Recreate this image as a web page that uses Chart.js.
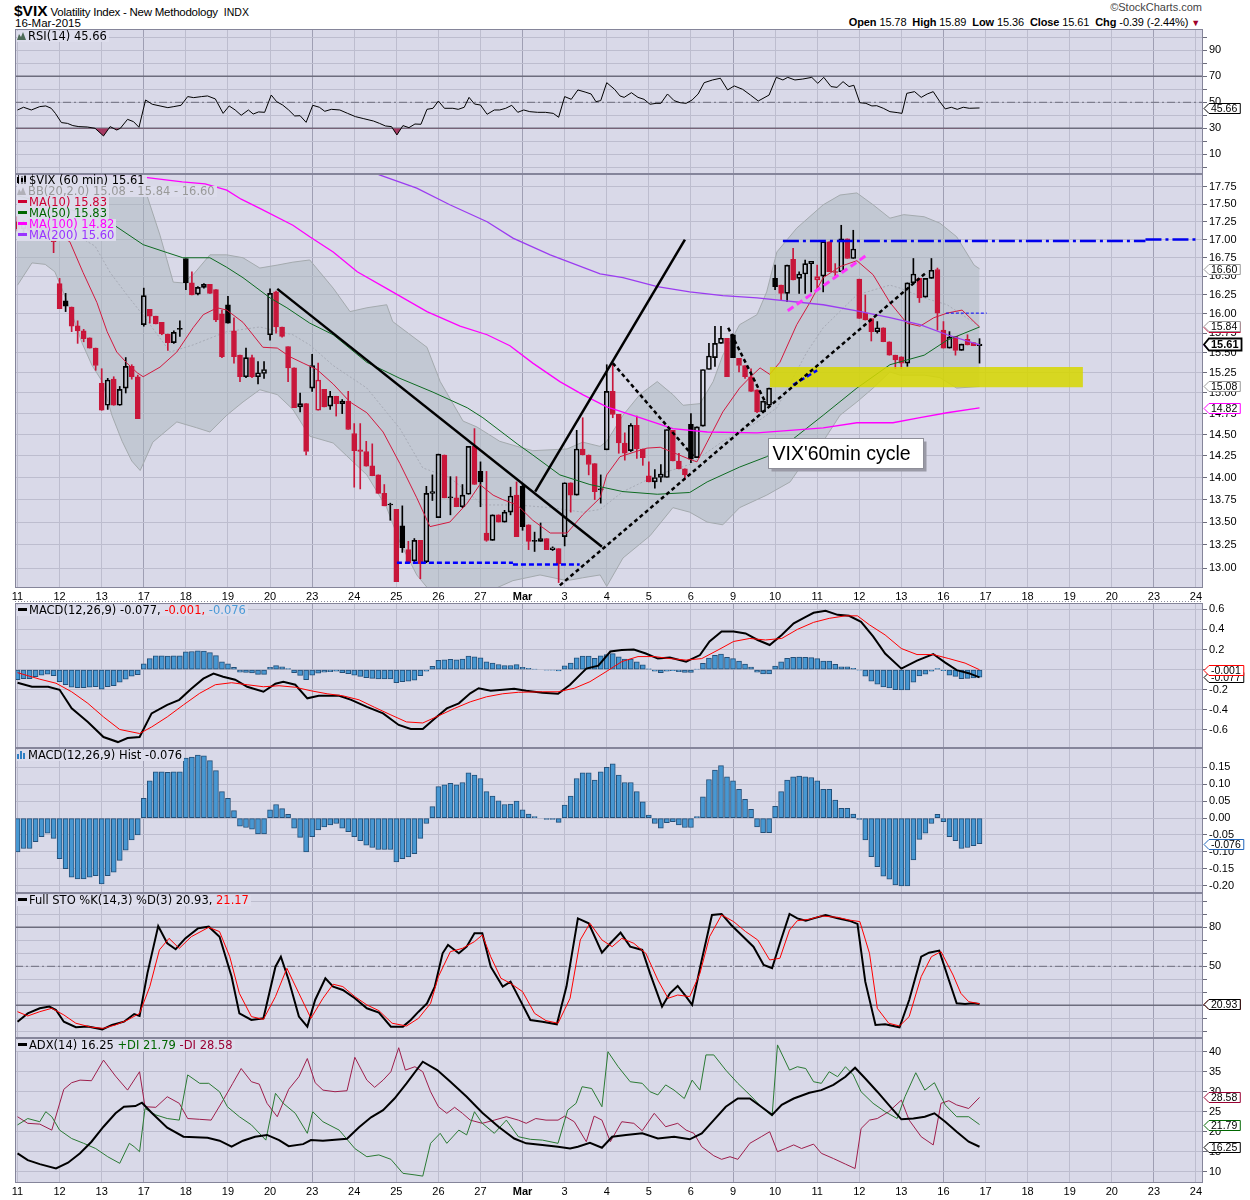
<!DOCTYPE html>
<html>
<head>
<meta charset="utf-8">
<title>$VIX 60 min</title>
<script src="https://cdn.jsdelivr.net/npm/chart.js@4.4.1/dist/chart.umd.min.js"></script>
<style>
html,body{margin:0;padding:0;background:#fff}
body{position:relative;width:1250px;height:1200px;overflow:hidden;font-family:"Liberation Sans",Arial,sans-serif;color:#000}
canvas{position:absolute;left:0}
.t{position:absolute;white-space:nowrap}
.lg{position:absolute;left:17px;font:11.5px "DejaVu Sans",sans-serif;line-height:11px;white-space:nowrap;z-index:3}
.lg .r{display:inline-block;background:rgba(221,221,236,0.95);padding-right:2px}
.dash{display:inline-block;width:9px;height:3px;margin:0 2px 0 1px;vertical-align:3px}
.lg svg{vertical-align:0px;margin-right:2px}
</style>
</head>
<body>
<div class="t" style="left:14px;top:2px;font-size:11.5px;letter-spacing:-0.25px"><b style="font-size:15.5px;letter-spacing:0">$VIX</b> Volatility Index - New Methodology <span style="font-size:10.5px;margin-left:3px;letter-spacing:0">INDX</span></div>
<div class="t" style="left:15px;top:17px;font-size:11.5px">16-Mar-2015</div>
<div class="t" style="right:48px;top:1px;font-size:11px;color:#444">©StockCharts.com</div>
<div class="t" style="right:50px;top:16px;font-size:11px;letter-spacing:-0.1px"><b>Open</b> 15.78 &nbsp;<b>High</b> 15.89 &nbsp;<b>Low</b> 15.36 &nbsp;<b>Close</b> 15.61 &nbsp;<b>Chg</b> -0.39 (-2.44%) <span style="color:#a0002a;font-size:9px">&#9660;</span></div>

<canvas id="cRsi" width="1250" height="145" style="top:29px"></canvas>
<canvas id="cMain" width="1250" height="429" style="top:174px"></canvas>
<canvas id="cMacd" width="1250" height="145" style="top:603px"></canvas>
<canvas id="cHist" width="1250" height="145" style="top:748px"></canvas>
<canvas id="cSto" width="1250" height="145" style="top:893px"></canvas>
<canvas id="cAdx" width="1250" height="160" style="top:1038px"></canvas>

<div class="lg" id="lgRsi" style="top:31px"></div>
<div class="lg" id="lgMain" style="top:175px"></div>
<div class="lg" id="lgMacd" style="top:605px"></div>
<div class="lg" id="lgHist" style="top:750px"></div>
<div class="lg" id="lgSto" style="top:895px"></div>
<div class="lg" id="lgAdx" style="top:1040px"></div>

<script>
// ---------------- axis categories ----------------
const dayLabels = ['11','12','13','17','18','19','20','23','24','25','26','27','Mar','3','4','5','6','9','10','11','12','13','16','17','18','19','20','23','24'];
const weekStartIdx = [3,7,12,17,22,27];
const BARS_PER_DAY = 7;
const X_MIN = -0.42, X_MAX = 197.17;

// ---------------- hourly candles (Feb 11 .. Mar 16), 7 bars per day ----------------
const O = [17.25,17.15,17.22,17.12,17.06,17.12,16.99, 16.40,16.17,16.09,15.845,15.78,15.69,15.56, 15.12,14.85,15.17,14.85,15.06,15.33,15.20, 15.86,16.06,15.97,15.89,15.74,15.63,15.80, 16.74,16.41,16.26,16.35,16.39,16.32,16.00, 16.12,15.78,15.47,15.20,15.44,15.20,15.24, 15.73,16.29,15.83,15.58,15.31,14.83,14.87, 15.06,14.79,15.045,14.84,14.96,14.87,14.90, 14.51,14.32,14.30,14.135,14.03,13.82,13.69, 13.64,13.46,13.20,13.08,13.30,13.07,13.82, 13.55,14.26,13.77,13.77,13.67,13.81,14.36, 14.07,13.38,13.30,13.58,13.50,13.61,13.80, 13.90,13.47,13.29,13.29,13.32,13.20,13.21, 13.34,13.94,13.80,14.33,14.26,14.16,13.86, 14.32,15.02,14.74,14.40,14.31,14.61,14.33, 14.02,13.95,14.00,14.00,14.55,14.19,14.10, 14.62,14.23,14.60,15.29,15.44,15.62,15.685, 15.73,15.43,15.34,15.20,15.04,14.77,14.85, 16.47,16.38,16.27,16.73,16.47,16.53,16.67, 16.45,16.50,16.97,16.56,16.56,17.01,16.74, 16.46,16.01,15.94,15.77,15.82,15.64,15.47, 15.45,15.37,16.41,16.47,16.22,16.47,16.59, 15.79,15.56,15.71,15.53,15.67,15.63,15.59];
const H = [17.32,17.26,17.30,17.20,17.16,17.18,17.00, 16.47,16.27,16.09,15.91,15.80,15.69,15.56, 15.30,15.18,15.20,15.08,15.44,15.35,15.22, 16.34,16.06,15.97,15.89,15.74,15.78,15.91, 16.74,16.56,16.36,16.40,16.39,16.32,16.05, 16.23,15.95,15.47,15.56,15.47,15.39,15.39, 16.33,16.30,15.83,15.58,15.31,15.00,14.87, 15.48,15.37,15.045,15.02,14.96,14.92,15.02, 14.63,14.63,14.42,14.39,14.03,13.92,13.71, 13.64,13.68,13.29,13.32,13.30,13.90,14.03, 14.27,14.26,14.01,14.01,13.92,14.36,14.57, 14.18,14.07,13.58,13.58,13.63,13.89,13.95, 13.93,13.47,13.39,13.49,13.32,13.23,13.21, 13.94,13.94,14.55,14.70,14.26,14.16,14.03, 15.35,15.35,14.74,14.52,14.63,14.72,14.33, 14.18,14.09,14.15,14.56,14.55,14.28,14.10, 14.75,14.59,15.29,15.62,15.84,15.84,15.685, 15.74,15.43,15.34,15.30,15.04,14.90,15.06, 16.65,16.38,16.65,16.88,16.56,16.72,16.70, 16.65,16.99,16.97,16.67,17.20,17.01,17.13, 16.46,16.25,15.94,15.90,15.82,15.64,15.47, 15.45,16.41,16.74,16.47,16.47,16.74,16.61, 15.90,15.77,15.71,15.61,15.73,15.63,15.68];
const L = [17.12,17.08,17.10,17.03,17.01,17.00,16.82, 16.07,16.03,15.77,15.62,15.64,15.56,15.28, 14.79,14.80,14.85,14.85,15.00,15.17,14.69, 15.84,15.88,15.87,15.73,15.53,15.62,15.71, 16.32,16.25,16.25,16.34,16.27,15.90,15.44, 15.88,15.37,15.14,15.19,15.19,15.11,15.18, 15.66,15.75,15.70,15.14,14.82,14.77,14.26, 15.02,14.79,14.83,14.80,14.72,14.75,14.56, 13.89,13.87,14.13,14.02,13.82,13.68,13.52, 12.86,13.17,13.06,13.07,12.89,13.06,13.74, 13.55,13.77,13.58,13.67,13.66,13.81,13.92, 13.67,13.29,13.30,13.50,13.50,13.58,13.34, 13.41,13.20,13.18,13.29,13.20,13.19,12.85, 13.24,13.61,13.80,14.26,14.03,13.75,13.71, 14.32,14.70,14.28,14.20,14.30,14.22,14.14, 13.95,13.88,13.95,14.00,14.19,14.10,13.98, 14.17,14.23,14.60,15.29,15.33,15.62,15.20, 15.44,15.26,15.18,15.02,14.76,14.76,14.85, 16.32,16.18,16.16,16.45,16.27,16.27,16.29, 16.32,16.29,16.56,16.50,16.56,16.74,16.74, 15.94,15.92,15.65,15.75,15.64,15.47,15.30, 15.30,15.33,16.41,16.15,16.22,16.47,15.79, 15.56,15.56,15.47,15.53,15.60,15.59,15.37];
const C = [17.15,17.22,17.12,17.06,17.12,17.02,16.97, 16.07,16.10,15.84,15.78,15.68,15.56,15.34, 14.79,15.16,14.85,15.045,15.33,15.20,14.69, 16.24,15.97,15.87,15.74,15.63,15.76,15.805, 16.41,16.25,16.35,16.39,16.27,15.92,15.45, 15.88,15.45,15.20,15.44,15.20,15.25,15.29, 16.27,15.83,15.71,15.31,14.82,14.87,14.30, 15.34,15.16,14.83,14.96,14.87,14.90,14.56, 14.31,14.30,14.13,14.02,13.82,13.68,13.70, 12.86,13.22,13.06,13.30,13.05,13.82,13.84, 14.27,13.77,13.775,13.67,13.80,14.36,13.92, 13.95,13.30,13.58,13.50,13.61,13.79,13.34, 13.45,13.29,13.295,13.32,13.20,13.22,13.05, 13.94,13.80,14.33,14.26,14.15,13.84,13.865, 15.02,14.74,14.40,14.28,14.61,14.33,14.23, 13.95,14.00,14.04,14.56,14.19,14.10,14.03, 14.21,14.59,15.29,15.46,15.62,15.685,15.20, 15.44,15.34,15.20,15.02,14.77,14.90,15.06, 16.36,16.27,16.65,16.45,16.53,16.67,16.70, 16.495,16.97,16.56,16.55,17.01,16.74,16.87, 15.94,15.92,15.77,15.82,15.64,15.47,15.41, 15.37,16.41,16.53,16.21,16.47,16.58,16.01, 15.56,15.70,15.53,15.61,15.60,15.59,15.61];

// ---------------- price overlays (bar position, value) ----------------
const bbUpperX = [0,5,10,15,19,21.5,23.7,25.9,27.5,29.2,32.0,34.8,37.5,40.3,43.2,45.8,48.6,52.5,55.3,58.1,61.4,62.4,68.1,70.3,74.1,76.4,80.2,83.1,85.7,91.4,94.0,96.9,98.0,100.7,103.5,106.4,109.0,110.7,113.5,115.7,117.3,120.1,123.0,124.6,126.3,129.6,134.0,136.8,139.6,142.3,145.1,147.4,150.8,153.4,156.2,159.1,160];
const bbUpper = [18.2,18.25,18.25,18.1,17.9,17.63,17.06,16.42,16.41,16.52,16.79,16.79,16.75,16.61,16.65,16.69,16.72,16.34,16.03,16.08,16.12,15.90,15.57,15.14,14.66,14.59,14.42,14.36,14.31,14.33,14.41,14.36,14.42,14.73,14.98,15.14,14.98,14.85,14.87,15.14,15.47,15.86,15.99,16.29,16.83,17.16,17.49,17.63,17.66,17.49,17.30,17.35,17.32,17.23,17.04,16.65,16.60];
const bbLowerX = [0,2.4,4.6,6.2,7.4,9.1,10.7,12.4,14.1,15.7,17.4,19.0,20.4,22.5,26.5,29.8,32.0,34.8,37.5,40.3,43.2,45.8,48.6,52.5,58.1,61.4,63.6,66.4,68.1,72,77,82.4,86.9,91.4,94.0,96.9,98.0,100.7,105.2,109.0,111.8,114.7,117.3,120.1,124.6,128.5,131.3,134.0,136.8,139.6,142.3,145.1,146.8,150.8,153.4,156.2,160];
const bbLower = [16.38,16.68,16.66,16.56,16.33,15.99,15.63,15.34,15.14,14.73,14.42,14.19,14.08,14.41,14.65,14.58,14.53,14.73,14.89,15.04,14.98,14.80,14.48,14.40,14.03,13.66,13.28,12.93,12.80,12.72,12.72,12.87,12.93,12.87,12.90,12.93,12.81,13.11,13.35,13.66,13.61,13.50,13.47,13.66,13.80,13.95,14.23,14.42,14.73,14.89,15.06,15.26,15.22,15.22,15.19,15.06,15.08];
const bbMidX = [0,8,12.9,15.4,18.2,20.9,25.4,29.2,34.8,40.3,45.8,48.6,52.5,58.1,63.6,67.4,71.9,77.4,83.1,88.6,94.0,96.9,100.7,106.4,111.8,117.3,123.0,126.3,131.3,134.0,139.6,145.1,146.8,150.8,154.6,160];
const bbMid = [17.3,17.15,16.91,16.55,16.25,15.98,15.51,15.60,15.77,15.83,15.73,15.60,15.34,15.06,14.57,14.11,14.00,13.69,13.69,13.66,13.61,13.64,13.84,14.03,14.15,14.42,14.65,14.82,15.51,15.82,16.25,16.38,16.34,16.21,16.12,15.84];
const ma10X = [0,5,8.7,10.9,13.2,14.9,16.5,18.2,19.9,20.9,23.7,26.5,29.2,30.9,33.2,34.8,37.5,40.8,43.2,45.3,47.5,49.8,52.5,55.3,58.1,60.8,63.6,66.4,68.6,71.9,74.8,76.9,79.1,80.7,83.1,85.7,88.6,91.4,94.0,96.9,98.0,100.2,102.4,104.7,106.9,109.0,111.8,113.0,114.7,117.3,120.1,121.8,123.5,125.1,126.8,129.6,131.8,134.0,136.8,139.6,142.3,145.1,147.9,150.1,152.4,154.6,157.1,160];
const ma10 = [17.25,17.15,16.97,16.55,16.15,15.77,15.51,15.37,15.25,15.20,15.32,15.51,15.82,15.99,16.08,16.05,15.89,15.57,15.56,15.45,15.37,15.29,15.11,14.89,14.76,14.53,14.16,13.77,13.45,13.50,13.71,13.92,13.80,13.75,13.69,13.52,13.38,13.38,13.58,13.77,14.03,14.24,14.29,14.34,14.35,14.29,14.21,14.18,14.41,14.77,15.06,15.19,15.31,15.23,15.38,15.86,16.15,16.48,16.63,16.71,16.52,16.15,15.88,15.84,15.95,16.01,16.05,15.83];
const ma50X = [0,6,12.1,15.4,20.9,24.9,27.5,32.0,34.8,37.5,42.0,44.8,48.6,52.5,58.1,63.6,69.1,74.8,77.4,83.1,85.7,90.2,95.2,100.7,106.4,111.8,114.7,120.1,124.6,128.5,134.0,139.6,145.1,150.8,154.6,160];
const ma50 = [17.62,17.48,17.35,17.24,16.93,16.82,16.75,16.75,16.62,16.48,16.21,16.08,15.88,15.73,15.38,15.18,15.01,14.82,14.70,14.39,14.26,14.03,13.92,13.84,13.81,13.83,13.95,14.12,14.24,14.42,14.73,15.06,15.35,15.47,15.66,15.83];
const ma100X = [0,4,10,16.7,20.9,27.4,31.2,34.8,37.2,40.3,45.8,48.6,52.5,56.5,61.5,68.1,73.6,78.1,81.9,85.7,90.2,94.0,98.0,103.5,109.0,114.7,123.0,134.0,139.6,145.6,150.1,154.6,160];
const ma100 = [17.98,17.93,17.92,17.91,17.89,17.82,17.79,17.70,17.57,17.44,17.20,17.04,16.83,16.56,16.33,16.03,15.84,15.73,15.59,15.37,15.14,14.98,14.83,14.70,14.57,14.53,14.52,14.58,14.64,14.64,14.70,14.76,14.82];
const ma200X = [40,50,55,60.3,66.4,71.9,78.1,82.4,88.6,96.9,100.7,106.4,111.8,117.3,123.0,134.0,139.6,145.1,150.1,154.6,160];
const ma200 = [18.55,18.24,18.1,17.92,17.73,17.49,17.25,17.02,16.79,16.53,16.48,16.36,16.29,16.24,16.21,16.12,16.04,15.95,15.86,15.73,15.60];

// ---------------- drawn annotations: [x1, price1, x2, price2] ----------------
const solidLines = [[43.2,16.33,97.2,13.23],[86.1,13.84,111.0,17.00]];
const dottedLines = [[99.0,15.37,112.7,14.22],[90.2,12.82,151.3,16.56],[118.2,15.82,124.5,14.87]];
const blueDashLines = [[63.1,13.06,82.4,13.06],[82.4,13.04,93.5,13.04],[129.0,15.10,133.0,15.28]];
const blueThinLines = [[154.4,16.01,161.2,16.01]];
const blueDashDotLines = [[127.3,16.98,187.6,16.98],[187.6,17.00,196.5,17.00]];
const pinkLines = [[128.1,16.04,141.3,16.79]];
const zoneBox = [125.1,177.2,15.07,15.32];
const noteAt = [124.8,14.46];
const noteText = "VIX'60min cycle";

// ---------------- RSI(14) ----------------
const rsiX = [0,1.0,2.3,3.7,4.7,5.6,6.3,7.3,8.3,9.2,10.2,11.6,12.9,14.3,15.4,16.5,17.1,18.3,19.3,20.2,21.3,22.4,23.7,25.0,26.0,27.2,28.3,29.3,30.6,31.6,32.9,34.2,35.2,36.2,37.2,38.4,39.2,40.1,41.1,42.2,43.1,44.1,45.1,46.1,47.0,48.0,49.1,50.2,51.1,52.2,53.6,54.9,56.2,57.6,59.2,60.2,61.2,62.2,63.1,64.1,65.1,66.1,67.1,68.1,69.1,70.0,71.0,72.4,73.3,74.3,75.1,76.0,77.0,78.1,79.3,80.2,81.2,82.2,83.2,84.2,85.2,86.5,87.8,89.1,90.0,91.0,92.1,93.2,94.4,95.4,96.2,97.0,98.0,99.3,100.2,100.9,102.1,103.2,104.2,105.2,106.2,107.0,108.1,109.2,110.2,111.2,112.2,113.2,114.2,115.6,116.9,118.1,119.2,120.6,121.9,123.2,125.0,126.2,127.3,128.1,129.3,130.6,132.1,133.1,134.1,135.3,136.3,137.3,138.3,139.1,140.1,141.1,142.1,142.9,144.0,145.1,146.3,147.1,147.9,149.2,150.3,151.3,152.3,153.4,154.3,155.3,156.3,157.3,158.3,160];
const rsi = [44.1,46.2,44.1,46.7,47.2,45.4,41.5,34.4,33.8,32.1,31.3,31.0,30.0,24.1,31.3,28.7,30.0,36.9,35.1,30.8,51.8,48.5,47.2,45.9,46.7,47.7,54.4,53.6,54.4,54.9,52.6,41.5,47.2,44.1,40.0,44.1,41.0,42.6,42.3,55.6,50.5,47.9,44.1,39.5,39.7,34.6,47.7,46.2,43.1,44.6,44.1,41.5,39.0,37.4,35.6,33.8,31.8,31.3,24.9,32.1,30.5,33.3,33.1,44.6,45.4,51.0,45.4,45.4,44.6,46.2,53.8,48.7,47.9,40.8,44.1,44.1,45.4,47.7,42.3,44.1,42.8,42.3,42.3,41.5,38.5,54.4,52.3,59.5,57.9,56.4,50.5,51.3,65.1,60.0,54.9,53.8,57.4,53.8,52.3,48.5,49.2,49.2,56.4,51.3,49.7,49.2,51.8,56.4,65.1,67.2,68.5,59.5,62.6,60.0,55.6,51.0,55.6,69.2,67.2,69.2,67.2,67.9,69.2,64.6,69.2,62.1,61.5,65.9,62.1,63.1,49.7,49.2,47.2,47.4,45.4,42.8,42.1,41.5,56.9,58.2,53.8,56.4,58.2,50.5,44.9,46.2,44.6,46.2,45.4,45.66];

// ---------------- MACD(12,26,9) ----------------
const macdX = [0,2.4,5.1,7.0,9.0,11.7,14.3,16.7,18.3,20.3,22.3,24.9,26.9,28.9,30.9,32.6,34.2,36.2,38.2,40.9,42.9,44.2,46.2,48.2,50.1,53.5,55.5,58.1,60.8,63.4,65.4,67.4,69.4,71.4,73.4,75.3,76.7,78.7,80.7,82.6,84.6,87.3,89.9,91.9,94.6,96.6,98.6,100.5,102.5,104.5,106.5,108.5,111.2,113.5,115.1,117.1,119.1,121.1,123.1,125.1,127.1,129.1,131.1,132.4,134.4,136.4,138.3,140.3,142.3,144.3,147.0,149.6,152.3,154.3,156.2,158.2,160];
const macd = [-0.13,-0.17,-0.17,-0.20,-0.385,-0.52,-0.67,-0.72,-0.68,-0.67,-0.435,-0.35,-0.30,-0.19,-0.09,-0.04,-0.07,-0.10,-0.17,-0.22,-0.14,-0.12,-0.15,-0.285,-0.26,-0.26,-0.30,-0.37,-0.435,-0.55,-0.59,-0.59,-0.485,-0.385,-0.335,-0.235,-0.185,-0.21,-0.20,-0.19,-0.21,-0.23,-0.24,-0.15,0.01,0.04,0.18,0.195,0.20,0.16,0.11,0.12,0.08,0.145,0.28,0.38,0.38,0.36,0.295,0.245,0.345,0.46,0.525,0.565,0.585,0.545,0.535,0.475,0.33,0.16,0.01,0.09,0.155,0.07,-0.005,-0.035,-0.077];
const signalX = [0,3.7,6.4,9.0,11.7,14.3,17.0,20.3,22.3,24.9,27.6,30.3,32.9,35.6,38.2,40.9,43.5,46.2,48.8,51.5,54.1,56.8,59.4,62.1,64.7,67.4,70.0,72.7,75.3,78.0,80.7,83.3,87.3,89.9,92.6,95.2,97.9,100.5,103.2,105.9,108.5,111.2,113.8,116.5,119.1,121.8,124.4,127.1,129.7,132.4,135.0,137.7,139.7,141.7,144.3,147.0,149.6,152.3,154.9,157.6,160];
const signal = [-0.03,-0.095,-0.135,-0.22,-0.335,-0.47,-0.595,-0.635,-0.57,-0.47,-0.35,-0.235,-0.15,-0.13,-0.15,-0.17,-0.16,-0.175,-0.21,-0.24,-0.26,-0.30,-0.375,-0.45,-0.52,-0.53,-0.46,-0.385,-0.32,-0.27,-0.24,-0.225,-0.22,-0.22,-0.185,-0.12,-0.02,0.08,0.13,0.13,0.11,0.095,0.11,0.195,0.28,0.31,0.295,0.31,0.40,0.47,0.51,0.535,0.535,0.445,0.345,0.21,0.15,0.15,0.11,0.065,-0.001];
const hist = [-0.10,-0.09,-0.09,-0.07,-0.055,-0.045,-0.06, -0.12,-0.15,-0.175,-0.18,-0.18,-0.175,-0.17, -0.195,-0.17,-0.16,-0.125,-0.095,-0.065,-0.05, 0.058,0.11,0.137,0.137,0.135,0.137,0.137, 0.177,0.18,0.186,0.184,0.17,0.14,0.078, 0.058,0.022,-0.024,-0.028,-0.033,-0.047,-0.047, 0.024,0.04,0.028,0.011,-0.03,-0.057,-0.10, -0.055,-0.035,-0.026,-0.02,-0.016,-0.03,-0.04, -0.055,-0.067,-0.08,-0.087,-0.093,-0.093,-0.093, -0.13,-0.12,-0.115,-0.105,-0.06,-0.016,0.034, 0.093,0.098,0.103,0.098,0.105,0.134,0.127, 0.117,0.078,0.065,0.051,0.04,0.041,0.05, 0.024,0.012,0.004,0.0,-0.004,-0.004,-0.013, 0.038,0.065,0.117,0.134,0.134,0.112,0.137, 0.15,0.16,0.127,0.105,0.105,0.078,0.048, 0.009,-0.016,-0.03,-0.014,-0.011,-0.02,-0.028, -0.028,0.004,0.063,0.114,0.142,0.155,0.122, 0.11,0.085,0.055,0.026,-0.026,-0.043,-0.043, 0.035,0.078,0.112,0.122,0.124,0.122,0.12, 0.11,0.085,0.085,0.053,0.029,0.029,0.012, -0.004,-0.065,-0.114,-0.144,-0.172,-0.181,-0.198, -0.201,-0.201,-0.124,-0.063,-0.045,-0.016,0.011, -0.011,-0.055,-0.067,-0.09,-0.087,-0.082,-0.076];

// ---------------- Full STO %K(14,3) %D(3) ----------------
const stoKX = [0,1.7,3.7,5.3,6.4,7.7,9.7,11.7,14.1,15.7,17.7,19.4,20.3,21.6,23.4,24.9,26.3,27.9,30.0,31.8,33.6,35.6,36.9,38.9,40.9,42.9,43.8,45.1,46.8,48.2,49.5,51.2,52.5,54.1,56.1,58.1,60.1,62.1,64.1,65.4,66.7,68.1,69.4,70.7,71.6,73.4,74.7,76.0,77.3,78.7,80.7,82.0,83.3,85.3,87.3,89.7,91.3,93.2,95.0,97.2,98.6,100.3,101.9,103.9,105.2,107.2,108.5,109.8,111.2,112.2,113.8,115.5,117.1,118.7,120.4,122.4,124.1,125.5,126.8,128.4,129.7,131.1,132.4,134.4,136.4,138.3,139.7,141.0,142.7,144.3,146.7,148.3,150.3,151.6,153.3,154.9,156.2,157.6,158.9,160];
const stoK = [7.4,13.8,17.7,19.0,16.4,7.4,3.1,3.6,1.5,4.9,7.4,13.3,11.8,44.6,81.0,67.7,63.1,71.5,79.2,80.5,72.8,42.1,13.8,8.7,10.0,49.7,57.4,39.5,11.3,3.6,24.1,40.8,34.4,31.8,25.4,17.7,14.4,3.6,3.6,8.7,15.1,21.5,34.4,60.0,66.4,60.0,65.1,75.4,75.4,49.7,34.4,38.2,26.7,8.7,7.4,5.4,34.4,86.9,83.1,60.5,67.7,75.9,65.1,62.6,44.6,19.0,29.2,34.9,26.7,20.3,54.9,89.5,90.3,81.8,74.1,65.1,51.0,48.5,67.7,90.3,86.9,85.1,86.9,89.5,86.9,85.1,82.6,38.2,4.9,5.4,3.1,24.1,57.4,60.5,62.1,39.5,21.5,21.0,21.5,20.93];
const stoDX = [0,1.7,3.7,5.7,7.7,9.7,12.3,14.3,16.3,18.3,20.3,22.0,23.6,25.2,26.9,28.9,31.8,33.6,35.3,36.9,38.9,40.9,42.9,44.8,46.8,48.8,50.8,52.5,54.1,56.1,58.1,60.1,62.3,64.7,66.7,68.7,70.0,72.0,74.0,76.0,77.3,78.7,80.4,82.0,84.0,86.0,87.9,89.9,91.9,93.6,95.2,97.2,98.9,100.5,102.5,104.5,106.5,108.2,109.8,111.8,113.5,115.1,117.1,119.1,121.1,123.1,125.1,126.8,128.4,129.7,131.7,133.7,136.4,138.3,140.1,141.7,143.0,144.9,146.7,148.3,150.3,152.0,153.6,155.6,156.9,158.2,160];
const stoD = [15.1,11.8,15.1,17.7,12.6,6.2,3.1,2.3,4.9,8.7,13.8,34.4,62.6,71.5,63.8,72.8,80.0,76.7,57.4,29.2,11.3,9.2,26.7,48.5,29.2,10.0,25.4,36.2,34.4,26.7,20.3,15.9,6.2,4.1,10.0,21.5,42.1,61.3,63.8,69.0,74.1,57.4,40.8,36.9,30.5,13.8,8.2,6.2,25.4,70.3,83.1,70.3,65.1,71.5,67.7,60.0,39.5,25.4,27.9,26.7,44.6,72.8,89.5,84.4,76.7,70.3,54.9,56.2,77.9,85.1,86.2,88.7,87.7,85.6,84.4,60.0,17.7,6.2,4.1,11.3,42.1,57.4,61.3,43.3,29.2,22.8,21.17];

// ---------------- ADX(14) +DI -DI ----------------
const adxX = [0,1.7,3.7,6.4,8.4,10.4,12.3,14.3,16.3,17.7,19.6,20.7,22.3,24.9,27.6,31.6,33.6,35.6,37.5,39.5,41.5,43.5,45.1,47.5,48.8,50.8,54.8,56.8,58.8,60.8,62.7,64.7,67.4,69.8,72.0,74.7,77.3,80.0,82.6,84.6,87.3,89.9,91.9,93.2,95.2,97.2,98.9,101.2,103.9,106.5,109.2,111.8,113.8,115.8,117.8,119.8,121.8,123.7,125.5,127.1,129.1,131.7,133.7,135.7,137.7,139.3,141.0,143.0,144.9,147.0,149.0,150.9,152.5,154.3,156.2,158.2,160];
const adx = [14.6,12.9,11.9,10.8,12.25,14.6,17.5,21.25,24.6,26.25,26.4,27.25,24.75,21.0,18.75,18.5,17.75,16.25,17.75,18.75,19.2,17.9,16.4,16.9,17.9,17.75,18.25,21.1,23.6,25.4,28.3,32.1,37.5,35.4,32.5,28.75,24.75,21.25,18.3,17.1,16.7,16.25,15.8,16.25,17.25,16.0,18.75,19.2,19.6,18.3,18.75,18.1,19.6,22.9,26.25,28.3,28.3,26.25,24.2,26.7,28.3,29.75,30.4,31.7,33.75,36.0,33.3,30.0,26.7,23.1,23.3,23.75,24.6,22.5,20.0,17.5,16.25];
const plusDiX = [0,1.7,3.7,4.7,5.7,7.0,9.0,11.0,13.0,15.0,17.0,18.6,19.4,20.3,21.2,23.0,24.9,26.9,28.3,30.3,31.8,33.6,34.9,36.9,38.9,41.3,42.9,44.2,46.2,48.2,49.1,50.8,53.5,56.1,58.1,60.1,62.1,64.1,66.1,67.4,68.7,70.3,71.4,73.4,74.7,76.0,77.3,79.3,81.3,83.3,85.3,87.3,89.9,91.5,92.9,93.9,95.5,97.2,98.2,99.9,101.9,103.9,105.2,106.5,107.8,109.2,110.9,112.2,113.5,114.5,115.8,117.8,119.8,121.8,123.7,125.5,126.4,128.4,129.7,131.1,132.4,133.7,135.0,136.4,137.7,139.0,140.3,142.3,144.3,146.3,147.6,149.4,150.9,152.5,154.3,156.2,158.2,160];
const plusDi = [21.7,23.3,22.5,25.0,23.75,20.4,18.3,17.1,15.8,13.75,12.1,17.1,16.25,15.0,25.8,24.2,23.3,22.9,34.2,32.1,32.1,30.0,26.25,23.75,21.7,17.9,29.6,27.1,24.6,19.6,25.0,22.5,20.4,15.8,13.75,14.2,13.1,9.6,9.2,8.9,17.1,19.6,17.1,20.4,19.2,25.0,22.1,19.6,22.9,18.75,18.1,17.9,17.1,25.4,27.1,31.25,30.8,26.25,40.0,36.25,32.5,32.1,30.0,29.2,31.7,30.4,28.3,32.9,30.4,39.2,39.2,35.4,32.1,29.2,26.25,23.9,41.7,35.4,36.25,35.8,32.5,32.1,35.0,33.75,36.25,34.2,30.0,27.1,25.0,23.3,28.75,34.75,30.4,32.25,26.7,23.75,23.75,21.79];
const minusDiX = [0,1.7,3.7,5.7,7.7,9.0,10.4,12.3,14.3,16.3,18.3,20.3,21.2,23.0,24.9,26.9,28.3,30.3,32.2,34.2,35.8,37.2,38.9,40.2,41.5,43.2,45.1,46.8,48.2,49.5,50.8,52.8,54.8,56.1,58.1,59.4,60.8,62.1,63.4,64.5,66.1,67.4,68.7,70.0,71.4,72.7,74.0,75.3,77.3,79.3,81.3,83.3,84.6,86.2,87.9,89.9,91.0,92.6,94.6,95.9,97.2,98.6,100.5,102.5,103.9,105.9,107.8,109.8,111.2,112.5,113.8,115.8,117.1,118.5,119.8,121.8,123.7,125.1,126.4,127.7,129.1,130.4,132.4,133.7,135.7,137.7,139.3,140.3,141.7,143.0,144.9,147.0,148.3,150.3,152.3,153.6,154.9,156.2,158.2,160];
const minusDi = [23.75,22.1,21.9,20.4,30.6,32.25,32.9,32.75,37.9,33.9,30.4,35.0,26.25,26.1,28.75,27.1,23.3,23.1,22.9,27.9,32.1,35.8,32.5,31.9,27.1,23.75,30.6,33.75,38.3,32.25,30.4,30.0,30.25,38.6,32.9,31.1,32.9,35.0,41.0,35.4,36.25,35.0,30.0,26.25,24.6,26.1,24.6,22.9,22.1,22.9,23.75,22.9,22.1,23.3,22.9,22.9,23.9,22.5,17.5,23.9,22.9,17.5,22.5,22.1,20.25,24.6,21.25,22.1,20.4,19.6,16.25,14.0,13.1,13.75,13.1,17.1,18.75,20.0,15.0,15.8,16.7,15.8,16.9,14.6,13.3,11.9,10.8,20.8,22.9,23.3,25.0,27.9,22.9,18.75,16.7,27.1,27.75,26.7,25.8,28.58];

// ---------------- y tick values ----------------
const priceTicks = [13.00,13.25,13.50,13.75,14.00,14.25,14.50,14.75,15.00,15.25,15.50,15.75,16.00,16.25,16.50,16.75,17.00,17.25,17.50,17.75];
const oscTicks = [0,10,20,30,40,50,60,70,80,90,100];
const rsiLabelTicks = [10,30,50,70,90];
const stoLabelTicks = [20,50,80];
const macdTicks = [-0.6,-0.4,-0.2,0,0.2,0.4,0.6];
const histTicks = [-0.20,-0.15,-0.10,-0.05,0,0.05,0.10,0.15];
const adxTicks = [10,15,20,25,30,35,40];

// ---------------- styling ----------------
const BG = '#d9d9e8', GRID = '#bdbdce', GRID_WEEK = '#9f9fb3', FRAME = '#85859a';
const RED = '#c8163a';
const last = a => a[a.length - 1];
const f2 = v => v.toFixed(2);
const f3 = v => v.toFixed(3);

function pts(xs, ys) { return xs.map((x, k) => ({x: x, y: ys[k]})); }
function seg(a) { return [{x: a[0], y: a[1]}, {x: a[2], y: a[3]}]; }
function flat(v) { return [{x: X_MIN, y: v}, {x: X_MAX, y: v}]; }
function line(data, color, width, extra) {
  return Object.assign({type: 'line', data: data, borderColor: color, borderWidth: width,
    pointRadius: 0, fill: false, tension: 0, order: 2}, extra || {});
}

const framePlugin = {
  id: 'frame',
  beforeDraw(c) {
    const a = c.chartArea, x = c.ctx;
    x.save(); x.fillStyle = BG; x.fillRect(a.left, a.top, a.right - a.left, a.bottom - a.top); x.restore();
  },
  afterDraw(c) {
    const a = c.chartArea, x = c.ctx;
    x.save(); x.strokeStyle = FRAME; x.lineWidth = 1;
    x.strokeRect(a.left + 0.5, a.top + 0.5, a.right - a.left - 1, a.bottom - a.top - 1); x.restore();
  }
};

// dotted bar-tick strip under the date labels of the price panel
const tickStripPlugin = {
  id: 'tickStrip',
  afterDraw(c) {
    const a = c.chartArea, x = c.ctx, y = a.bottom + 13.5;
    x.save(); x.strokeStyle = '#8a8a9a'; x.lineWidth = 1; x.setLineDash([1, 2]);
    x.beginPath(); x.moveTo(a.left, y); x.lineTo(a.right, y); x.stroke(); x.restore();
  }
};

function tagPlugin(items) {
  return {
    id: 'tags',
    afterDraw(c) {
      const ys = c.scales.y, ctx = c.ctx, x0 = c.chartArea.right;
      items.forEach(t => {
        const y = Math.round(ys.getPixelForValue(t.v)) + 0.5;
        const hh = t.bold ? 6 : 5;
        ctx.save();
        ctx.font = (t.bold ? 'bold ' : '') + (t.bold ? '11px' : '10.5px') + ' "Liberation Sans"';
        const w = ctx.measureText(t.text).width + 4;
        ctx.beginPath();
        ctx.moveTo(x0 + 1, y); ctx.lineTo(x0 + 6, y - hh); ctx.lineTo(x0 + 7 + w, y - hh);
        ctx.lineTo(x0 + 7 + w, y + hh); ctx.lineTo(x0 + 6, y + hh); ctx.closePath();
        ctx.fillStyle = '#fff'; ctx.fill();
        ctx.lineWidth = t.bold ? 1.8 : 1; ctx.strokeStyle = t.color; ctx.stroke();
        ctx.fillStyle = '#000'; ctx.textBaseline = 'middle';
        ctx.fillText(t.text, x0 + 8, y + 0.5);
        ctx.restore();
      });
    }
  };
}

const notePlugin = {
  id: 'note',
  afterDatasetsDraw(c) {
    const ctx = c.ctx;
    const x = Math.round(c.scales.x.getPixelForValue(noteAt[0])) + 0.5;
    const y = Math.round(c.scales.y.getPixelForValue(noteAt[1])) + 0.5;
    ctx.save();
    ctx.font = '19.5px "Liberation Sans"';
    const w = Math.round(ctx.measureText(noteText).width) + 17, h = 30;
    ctx.fillStyle = '#9a9aa6'; ctx.fillRect(x + 3, y + 3, w, h);
    ctx.fillStyle = '#fff'; ctx.fillRect(x, y, w, h);
    ctx.strokeStyle = '#8f8f99'; ctx.lineWidth = 1; ctx.strokeRect(x, y, w, h);
    ctx.fillStyle = '#000'; ctx.textBaseline = 'middle';
    ctx.fillText(noteText, x + 4, y + h / 2 + 1);
    ctx.restore();
  }
};

function xScale(showLabels) {
  return {
    type: 'linear', min: X_MIN, max: X_MAX, position: 'bottom', offset: false,
    afterBuildTicks: s => { s.ticks = dayLabels.map((l, d) => ({value: d * BARS_PER_DAY})); },
    afterFit: s => { s.height = showLabels ? 15 : 0; s.paddingLeft = 0; s.paddingRight = 0; },
    grid: {drawTicks: false, offset: false, lineWidth: 1, color: c => weekStartIdx.includes(c.index) ? GRID_WEEK : GRID},
    border: {display: false},
    ticks: {display: showLabels, autoSkip: false, maxRotation: 0, minRotation: 0, padding: 2, color: '#000',
      font: c => ({family: 'Liberation Sans', size: 11, weight: dayLabels[c.index] === 'Mar' ? 'bold' : 'normal'}),
      callback: (v, i) => dayLabels[i]}
  };
}

function yScale(cfg) {
  return {
    type: cfg.type || 'linear', position: 'right', min: cfg.min, max: cfg.max,
    afterBuildTicks: s => { s.ticks = cfg.ticks.map(v => ({value: v})); },
    afterFit: s => { s.width = 47; s.paddingTop = 0; s.paddingBottom = 0; },
    grid: {color: GRID, lineWidth: 1, drawTicks: true, tickLength: 4, tickColor: '#6c6c7c'},
    border: {display: false},
    ticks: {autoSkip: false, padding: 2, color: '#000', font: {family: 'Liberation Sans', size: 11}, callback: cfg.label}
  };
}

function makeChart(id, datasets, ycfg, showX, plugins) {
  return new Chart(document.getElementById(id), {
    type: 'line',
    data: {datasets: datasets},
    options: {
      responsive: false, animation: false, events: [],
      layout: {padding: {left: 15, right: 0, top: 0, bottom: 0}},
      plugins: {legend: {display: false}, tooltip: {enabled: false}},
      scales: {x: xScale(showX), y: yScale(ycfg)}
    },
    plugins: [framePlugin].concat(plugins || [])
  });
}

// ---------------- RSI panel ----------------
makeChart('cRsi', [
  line(pts(rsiX, rsi), '#000', 1, {order: 0, fill: {target: {value: 30}, above: 'rgba(0,0,0,0)', below: '#a63a63'}}),
  line(flat(70), '#6d6d7d', 1.5, {order: 3}),
  line(flat(30), '#6d6d7d', 1.5, {order: 3}),
  line(flat(50), '#6d6d7d', 1, {order: 3, borderDash: [8, 3, 2, 3]})
], {min: -5.15, max: 106.4, ticks: oscTicks, label: v => rsiLabelTicks.includes(v) ? String(v) : ''}, false,
  [tagPlugin([{v: last(rsi), text: f2(last(rsi)), color: '#000'}])]);

// ---------------- price panel ----------------
const bodyData = [], upWick = [], loWick = [], bodyFill = [], barColor = [];
for (let k = 0; k < C.length; k++) {
  const prev = k ? C[k - 1] : O[k];
  const col = C[k] < prev ? RED : '#000';
  const top = Math.max(O[k], C[k]), bot = Math.min(O[k], C[k]);
  bodyData.push({x: k, y: [O[k], C[k]]});
  upWick.push({x: k, y: [top, H[k]]});
  loWick.push({x: k, y: [L[k], bot]});
  bodyFill.push(C[k] < O[k] ? col : 'rgba(0,0,0,0)');
  barColor.push(col);
}
const mainSets = [
  line(pts(bbUpperX, bbUpper), '#a4aaae', 1, {order: 6}),
  line(pts(bbLowerX, bbLower), '#a4aaae', 1, {order: 6, fill: '-1', backgroundColor: 'rgba(168,180,186,0.47)'}),
  line(pts(bbMidX, bbMid), '#a7abb6', 1, {order: 5, borderDash: [2, 2]}),
  {type: 'bar', data: loWick, backgroundColor: barColor, borderWidth: 0, barThickness: 1, grouped: false, order: 4},
  {type: 'bar', data: upWick, backgroundColor: barColor, borderWidth: 0, barThickness: 1, grouped: false, order: 4},
  {type: 'bar', data: bodyData, backgroundColor: bodyFill, borderColor: barColor, borderWidth: 1, borderSkipped: false,
    barThickness: 5, minBarLength: 1, grouped: false, order: 3},
  line(pts(ma200X, ma200), '#9b3cf0', 1.3),
  line(pts(ma100X, ma100), '#ff00ff', 1.3),
  line(pts(ma50X, ma50), '#0e6b22', 1),
  line(pts(ma10X, ma10), '#d3193f', 1),
  line([{x: zoneBox[0], y: zoneBox[3]}, {x: zoneBox[1], y: zoneBox[3]}], 'rgba(0,0,0,0)', 0, {order: 1}),
  line([{x: zoneBox[0], y: zoneBox[2]}, {x: zoneBox[1], y: zoneBox[2]}], 'rgba(0,0,0,0)', 0,
    {order: 1, fill: '-1', backgroundColor: 'rgba(214,214,0,0.86)'})
];
solidLines.forEach(a => mainSets.push(line(seg(a), '#000', 2.5, {order: 0})));
dottedLines.forEach(a => mainSets.push(line(seg(a), '#000', 2.5, {order: 0, borderDash: [4, 3]})));
blueDashLines.forEach(a => mainSets.push(line(seg(a), '#0000ff', 2.5, {order: 0, borderDash: [5, 3]})));
blueThinLines.forEach(a => mainSets.push(line(seg(a), '#0000ff', 1, {order: 0, borderDash: [3, 2]})));
blueDashDotLines.forEach(a => mainSets.push(line(seg(a), '#0000ee', 2.5, {order: 0, borderDash: [16, 4, 3, 4]})));
pinkLines.forEach(a => mainSets.push(line(seg(a), '#ff33ff', 3, {order: 0, borderDash: [7, 4]})));

makeChart('cMain', mainSets, {type: 'logarithmic', min: 12.793, max: 17.935, ticks: priceTicks, label: v => v.toFixed(2)}, true,
  [notePlugin, tickStripPlugin, tagPlugin([
    {v: last(ma10), text: f2(last(ma10)), color: '#cc0033'},
    {v: last(ma200), text: f2(last(ma200)), color: '#9933ff'},
    {v: last(bbUpper), text: f2(last(bbUpper)), color: '#9a9a9a'},
    {v: last(bbMid), text: f2(last(bbMid)), color: '#9a9a9a'},
    {v: last(C), text: f2(last(C)), color: '#000', bold: true},
    {v: last(bbLower), text: f2(last(bbLower)), color: '#9a9a9a'},
    {v: last(ma100), text: f2(last(ma100)), color: '#ff00ff'}
  ])]);

// ---------------- MACD panel ----------------
const histData = hist.map((v, k) => ({x: k, y: v}));
const histBar = (order) => ({type: 'bar', data: histData, backgroundColor: '#4797d2', borderColor: '#234f78', borderWidth: 1,
  borderSkipped: false, barThickness: 5, grouped: false, order: order});
makeChart('cMacd', [
  line(pts(signalX, signal), '#ff0000', 1, {order: 0}),
  line(pts(macdX, macd), '#000', 2, {order: 1}),
  histBar(3)
], {min: -0.779, max: 0.6626, ticks: macdTicks, label: v => v.toFixed(1)}, false,
  [tagPlugin([{v: last(macd), text: f3(last(macd)), color: '#000'}, {v: last(signal), text: f3(last(signal)), color: '#ff0000'}])]);

// ---------------- MACD histogram panel ----------------
makeChart('cHist', [histBar(1)], {min: -0.2216, max: 0.2071, ticks: histTicks, label: v => v.toFixed(2)}, false,
  [tagPlugin([{v: last(hist), text: f3(last(hist)), color: '#2266bb'}])]);

// ---------------- STO panel ----------------
makeChart('cSto', [
  line(pts(stoDX, stoD), '#ff0000', 1, {order: 0}),
  line(pts(stoKX, stoK), '#000', 2, {order: 1}),
  line(flat(80), '#6d6d7d', 1.5, {order: 3}),
  line(flat(20), '#6d6d7d', 1.5, {order: 3}),
  line(flat(50), '#6d6d7d', 1, {order: 3, borderDash: [8, 3, 2, 3]})
], {min: -5.15, max: 106.4, ticks: oscTicks, label: v => stoLabelTicks.includes(v) ? String(v) : ''}, false,
  [tagPlugin([{v: last(stoD), text: f2(last(stoD)), color: '#ff0000'}, {v: last(stoK), text: f2(last(stoK)), color: '#000'}])]);

// ---------------- ADX panel ----------------
makeChart('cAdx', [
  line(pts(adxX, adx), '#000', 2, {order: 0}),
  line(pts(plusDiX, plusDi), '#2b7a34', 1, {order: 1}),
  line(pts(minusDiX, minusDi), '#9e1f4c', 1, {order: 1})
], {min: 7.18, max: 43.43, ticks: adxTicks, label: v => String(v)}, true,
  [tagPlugin([
    {v: last(minusDi), text: f2(last(minusDi)), color: '#990033'},
    {v: last(plusDi), text: f2(last(plusDi)), color: '#006600'},
    {v: last(adx), text: f2(last(adx)), color: '#000'}
  ])]);

// ---------------- legends (HTML text) ----------------
const icoLine = c => '<span class="dash" style="background:' + c + '"></span>';
const icoMount = c => '<svg width="9" height="9"><path d="M0 9 L2 3 L4 6 L6 1 L9 9 Z" fill="' + c + '"/></svg>';
const icoCandle = '<svg width="10" height="9"><rect x="0" y="2" width="2" height="6" fill="#000"/><rect x="1" y="0" width="0.8" height="9" fill="#000"/><rect x="4" y="3" width="2" height="4" fill="#000"/><rect x="4.6" y="1" width="0.8" height="8" fill="#000"/><rect x="7" y="1" width="2" height="6" fill="#000"/><rect x="7.6" y="0" width="0.8" height="9" fill="#000"/></svg>';
const icoBars = '<svg width="9" height="9"><rect x="0" y="4" width="2" height="5" fill="#2f7fc4"/><rect x="3" y="1" width="2" height="8" fill="#2f7fc4"/><rect x="6" y="3" width="2" height="6" fill="#2f7fc4"/></svg>';
const row = (inner, color) => '<div><span class="r" style="color:' + (color || '#000') + '">' + inner + '</span></div>';

document.getElementById('lgRsi').innerHTML = row(icoMount('#4d6b58') + 'RSI(14) ' + f2(last(rsi)));
document.getElementById('lgMain').innerHTML =
  row(icoCandle + '$VIX (60 min) ' + f2(last(C))) +
  row(icoMount('#b0b0b8') + 'BB(20,2.0) ' + f2(last(bbLower)) + ' - ' + f2(last(bbMid)) + ' - ' + f2(last(bbUpper)), '#999') +
  row(icoLine('#cc0033') + 'MA(10) ' + f2(last(ma10)), '#cc0033') +
  row(icoLine('#006600') + 'MA(50) ' + f2(last(ma50)), '#006600') +
  row(icoLine('#ff00ff') + 'MA(100) ' + f2(last(ma100)), '#ff00ff') +
  row(icoLine('#9933ff') + 'MA(200) ' + f2(last(ma200)), '#9933ff');
document.getElementById('lgMacd').innerHTML = row(icoLine('#000') + 'MACD(12,26,9) ' + f3(last(macd)) + ', <span style="color:#ff0000">' + f3(last(signal)) + ',</span> <span style="color:#4a9ad6">' + f3(last(hist)) + '</span>');
document.getElementById('lgHist').innerHTML = row(icoBars + 'MACD(12,26,9) Hist ' + f3(last(hist)));
document.getElementById('lgSto').innerHTML = row(icoLine('#000') + 'Full STO %K(14,3) %D(3) ' + f2(last(stoK)) + ', <span style="color:#ff0000">' + f2(last(stoD)) + '</span>');
document.getElementById('lgAdx').innerHTML = row(icoLine('#000') + 'ADX(14) ' + f2(last(adx)) + ' <span style="color:#006600">+DI ' + f2(last(plusDi)) + '</span> <span style="color:#990033">-DI ' + f2(last(minusDi)) + '</span>');
</script>
</body>
</html>
